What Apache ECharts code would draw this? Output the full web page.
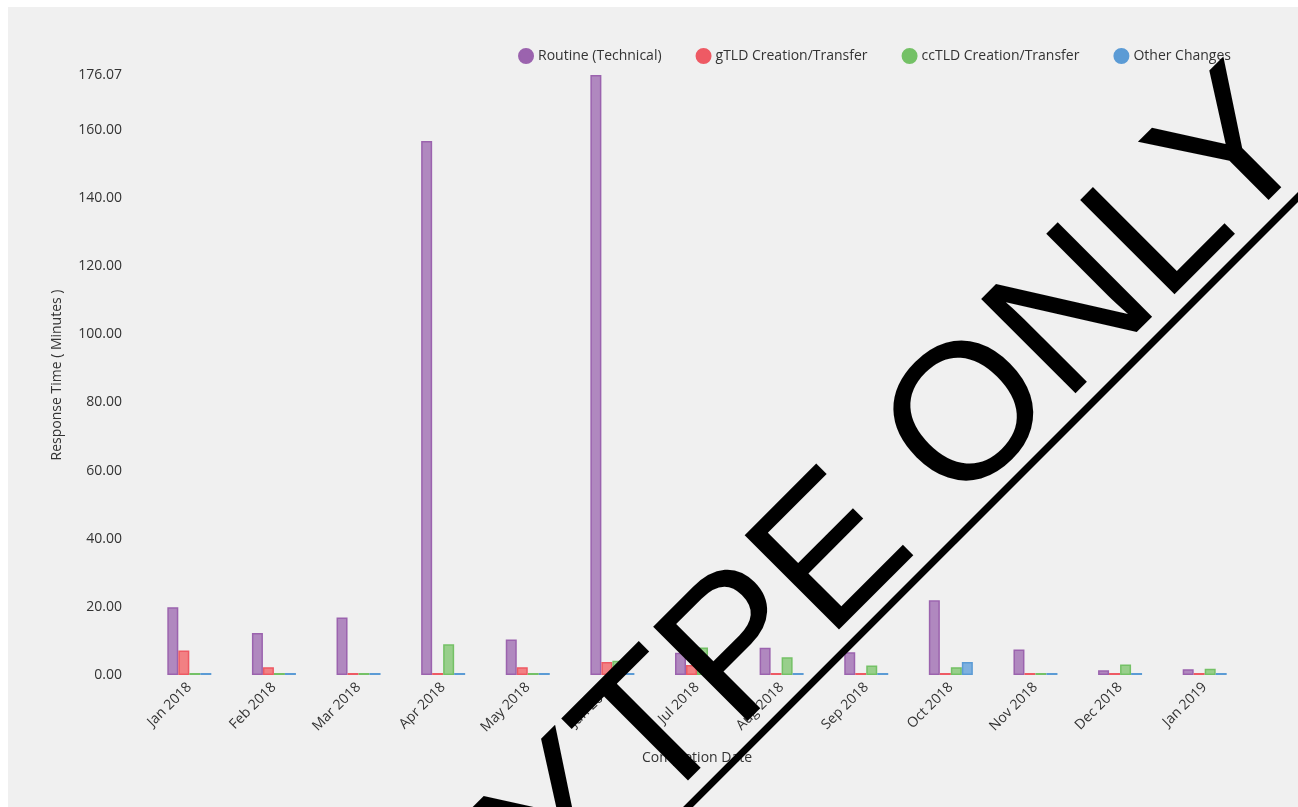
<!DOCTYPE html>
<html>
<head>
<meta charset="utf-8">
<script src="https://cdn.jsdelivr.net/npm/echarts@6/dist/echarts.min.js"></script>
<style>
html,body{margin:0;padding:0;background:#fff;overflow:hidden;}
#chart{position:absolute;left:8px;top:7px;width:1290px;height:800px;background:#f0f0f0;}
</style>
</head>
<body>
<div id="chart"></div>
<script>
const categories = ['Jan 2018','Feb 2018','Mar 2018','Apr 2018','May 2018','Jun 2018','Jul 2018','Aug 2018','Sep 2018','Oct 2018','Nov 2018','Dec 2018','Jan 2019'];
const routine = [19.9, 12.3, 16.9, 156.7, 10.4, 176.07, 6.5, 8.0, 6.7, 21.9, 7.5, 1.4, 1.7];
const gtld    = [7.2, 2.3, 0, 0, 2.3, 3.8, 2.9, 0, 0, 0, 0, 0, 0];
const cctld   = [0, 0, 0, 9.0, 0, 4.2, 8.1, 5.2, 2.8, 2.3, 0, 3.1, 1.8];
const other   = [0, 0, 0, 0, 0, 0, 0, 0, 0, 3.8, 0, 0, 0];
const seriesNames = ['Routine (Technical)','gTLD Creation/Transfer','ccTLD Creation/Transfer','Other Changes'];
const yMax = 176.07;
const watermarkText = 'PROTOYTPE ONLY';

const fills = ['#b088bf','#f28083','#98cf8b','#7eb0df'];
const borders = ['#9b63ae','#ee5a64','#74c166','#5b9bd5'];
const legendColors = ['#9b63ae','#ee5a64','#74c166','#5b9bd5'];
const font = '"Open Sans", sans-serif';
const fs = 14;

const chart = echarts.init(document.getElementById('chart'));
const mk = (name, data, i) => ({
  name, type: 'bar', data,
  barWidth: 11, barGap: '0%', barMinHeight: 2,
  itemStyle: { color: fills[i], borderColor: borders[i], borderWidth: 1.5 },
  emphasis: { disabled: true }
});
chart.setOption({
  animation: false,
  backgroundColor: '#f0f0f0',
  color: legendColors,
  textStyle: { fontFamily: font },
  legend: {
    right: 62, top: 36, icon: 'circle', itemWidth: 14, itemHeight: 14, itemGap: 34,
    textStyle: { fontFamily: font, fontSize: fs, color: '#333' },
    data: seriesNames.map((n, i) => ({ name: n, itemStyle: { color: legendColors[i] } }))
  },
  grid: { left: 139, right: 51, top: 68, bottom: 132, containLabel: false },
  xAxis: {
    type: 'category', data: categories,
    name: 'Completion Date', nameLocation: 'middle', nameGap: 76,
    nameTextStyle: { fontFamily: font, fontSize: fs, color: '#333' },
    axisLine: { show: false }, axisTick: { show: false },
    axisLabel: { rotate: 45, margin: 10, fontFamily: font, fontSize: fs, color: '#333' }
  },
  yAxis: {
    type: 'value', min: 0, max: yMax, interval: 20,
    name: 'Response Time ( Minutes )', nameLocation: 'middle', nameGap: 83, nameRotate: 90,
    nameTextStyle: { fontFamily: font, fontSize: fs, color: '#333' },
    axisLine: { show: false }, axisTick: { show: false }, splitLine: { show: false },
    axisLabel: { margin: 25, fontFamily: font, fontSize: fs, color: '#333', formatter: v => v.toFixed(2) }
  },
  series: [mk(seriesNames[0], routine, 0), mk(seriesNames[1], gtld, 1), mk(seriesNames[2], cctld, 2), mk(seriesNames[3], other, 3)],
  graphic: [
    { type: 'text', z: 100, x: 1275, y: 103, rotation: Math.PI / 4, silent: true,
      style: { text: watermarkText, font: '194px "Liberation Sans", Arial, sans-serif', fill: '#000', align: 'right', verticalAlign: 'middle' } },
    { type: 'line', z: 100, silent: true,
      shape: { x1: 600 - 8, y1: 895 - 7, x2: 1400 - 8, y2: 95 - 7 },
      style: { stroke: '#000', lineWidth: 7 } }
  ]
});
</script>
</body>
</html>
